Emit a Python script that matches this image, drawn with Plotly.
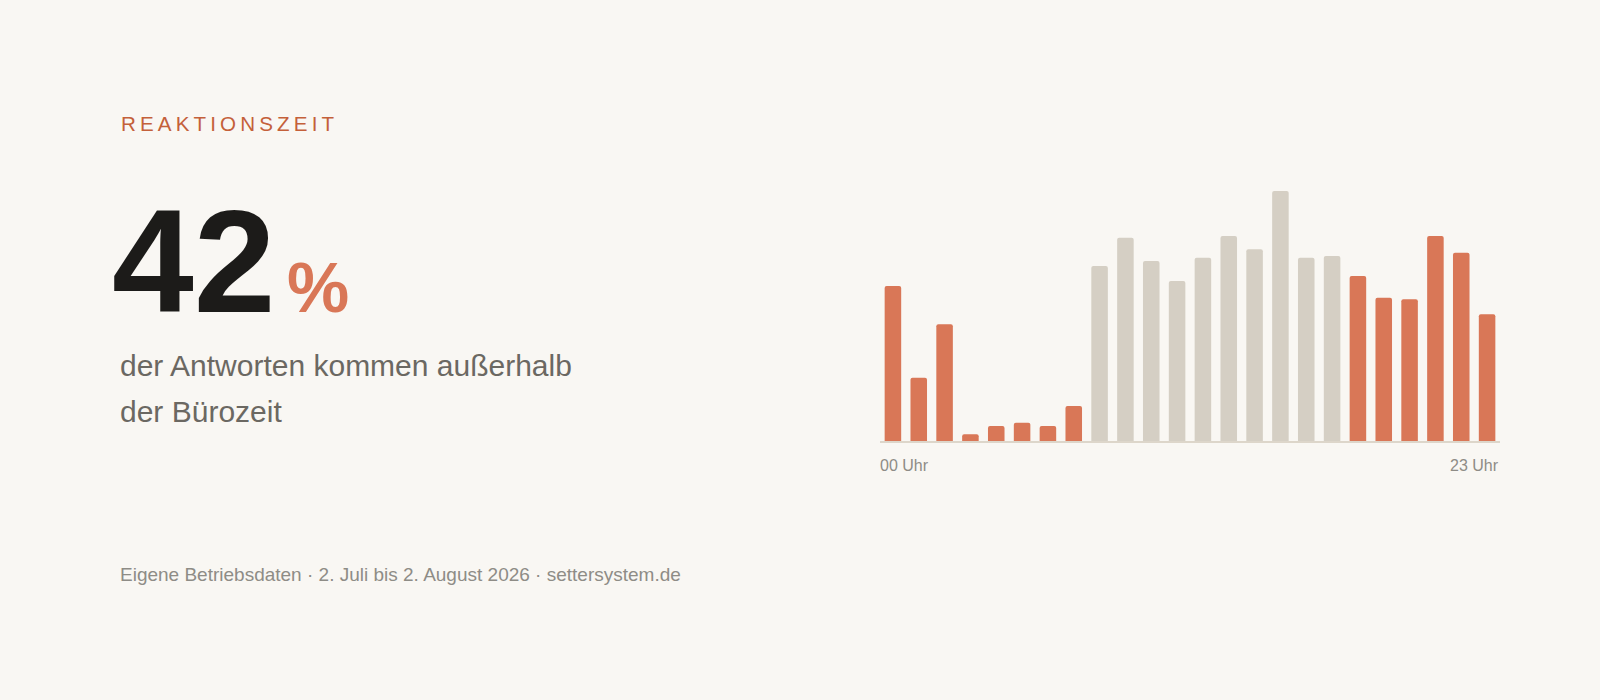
import plotly.graph_objects as go

# Antworten pro Stunde (Juli/August 2026)
stunden = ["00", "01", "02", "03", "04", "05", "06", "07", "08", "09", "10", "11",
           "12", "13", "14", "15", "16", "17", "18", "19", "20", "21", "22", "23"]
antworten = [93, 38, 70, 4, 9, 11, 9, 21, 105, 122, 108, 96,
             110, 123, 115, 150, 110, 111, 99, 86, 85, 123, 113, 76]
buerozeit = ["08", "09", "10", "11", "12", "13", "14", "15", "16", "17"]
achsen_labels = ["00 Uhr", "23 Uhr"]

kennzahl = "42"
ueberschrift = "REAKTIONSZEIT"
untertitel = ["der Antworten kommen außerhalb", "der Bürozeit"]
quelle = "Eigene Betriebsdaten · 2. Juli bis 2. August 2026 · settersystem.de"

orange = "#D97757"
grau = "#D5CFC4"
bg = "#F9F7F3"
font = "Liberation Sans"

farben = [grau if h in buerozeit else orange for h in stunden]

fig = go.Figure(go.Bar(
    x=stunden, y=antworten,
    marker=dict(color=farben, line_width=0, cornerradius=2),
    hoverinfo="skip",
))

W, H = 1600, 700
def px(x): return x / W
def py(y): return 1 - y / H

fig.update_layout(
    width=W, height=H,
    paper_bgcolor=bg, plot_bgcolor=bg,
    margin=dict(l=0, r=0, t=0, b=0),
    showlegend=False,
    bargap=0.36,
    font=dict(family=font),
    xaxis=dict(type="category", range=[-0.5, 23.5], domain=[px(880), px(1500)],
               showline=True, linecolor="#DDD6CA", linewidth=1.5,
               showticklabels=False, showgrid=False, zeroline=False, ticks=""),
    yaxis=dict(domain=[py(441), py(175)], range=[0, 159.6], visible=False),
)

# Texte links
fig.add_annotation(x=px(119), y=py(123), xref="paper", yref="paper",
                   xanchor="left", yanchor="middle", showarrow=False,
                   text="\u2009".join(ueberschrift),
                   font=dict(size=20.6, color="#C4603A", family=font))
fig.add_annotation(x=px(110), y=py(260.5), xref="paper", yref="paper",
                   xanchor="left", yanchor="middle", showarrow=False,
                   text="<b>" + kennzahl + "</b>",
                   font=dict(size=147, color="#1C1B19", family=font))
fig.add_annotation(x=px(285), y=py(288), xref="paper", yref="paper",
                   xanchor="left", yanchor="middle", showarrow=False,
                   text="<b>%</b>",
                   font=dict(size=70, color=orange, family=font))
for i, zeile in enumerate(untertitel):
    fig.add_annotation(x=px(118), y=py(365 + i * 46), xref="paper", yref="paper",
                       xanchor="left", yanchor="middle", showarrow=False,
                       text=zeile, font=dict(size=30, color="#6B6862", family=font))
fig.add_annotation(x=px(118), y=py(574), xref="paper", yref="paper",
                   xanchor="left", yanchor="middle", showarrow=False,
                   text=quelle, font=dict(size=19, color="#8E8C86", family=font))

# Achsenbeschriftung
fig.add_annotation(x=px(878), y=py(465), xref="paper", yref="paper",
                   xanchor="left", yanchor="middle", showarrow=False,
                   text=achsen_labels[0], font=dict(size=16, color="#8E8C86", family=font))
fig.add_annotation(x=px(1501), y=py(465), xref="paper", yref="paper",
                   xanchor="right", yanchor="middle", showarrow=False,
                   text=achsen_labels[1], font=dict(size=16, color="#8E8C86", family=font))

fig.write_html("out.html", config={"displayModeBar": False},
               post_script="document.body.style.margin='0';")
